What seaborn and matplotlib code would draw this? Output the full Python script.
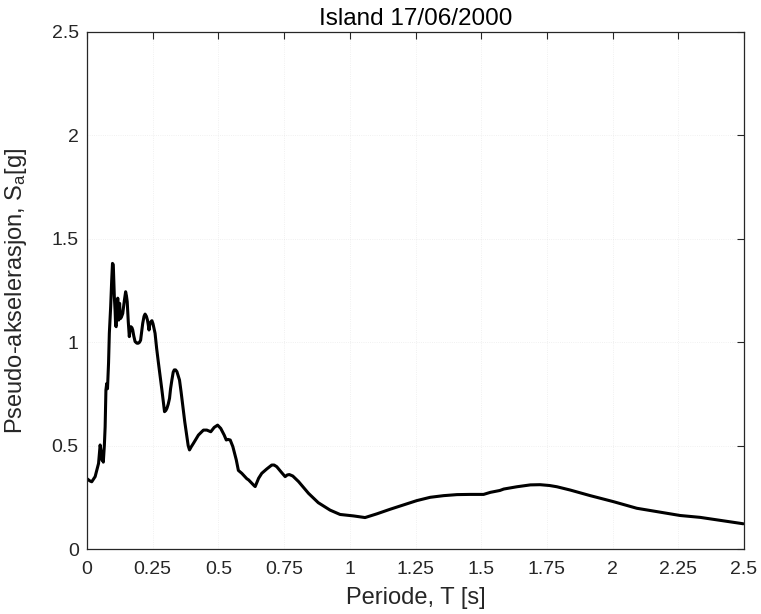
import numpy as np
import pandas as pd
import matplotlib
matplotlib.use("Agg")
import matplotlib.pyplot as plt
import seaborn as sns

# ---- data ----
period = [0.000, 0.010, 0.018, 0.031, 0.044, 0.050, 0.054, 0.057, 0.060, 0.062,
          0.066, 0.069, 0.072, 0.075, 0.078, 0.082, 0.085, 0.090, 0.094, 0.097,
          0.100, 0.102, 0.104, 0.107, 0.109, 0.111, 0.114, 0.117, 0.119, 0.121,
          0.124, 0.126, 0.128, 0.132, 0.136, 0.142, 0.147, 0.150, 0.153, 0.157,
          0.161, 0.164, 0.167, 0.171, 0.174, 0.178, 0.183, 0.190, 0.195, 0.200,
          0.204, 0.208, 0.212, 0.217, 0.221, 0.226, 0.230, 0.233, 0.236, 0.239,
          0.243, 0.247, 0.251, 0.259, 0.265, 0.272, 0.285, 0.295, 0.300, 0.304,
          0.309, 0.314, 0.318, 0.323, 0.328, 0.332, 0.337, 0.342, 0.352, 0.358,
          0.365, 0.372, 0.380, 0.385, 0.390, 0.397, 0.405, 0.424, 0.443, 0.456,
          0.471, 0.484, 0.497, 0.509, 0.522, 0.530, 0.536, 0.545, 0.555, 0.568,
          0.576, 0.589, 0.608, 0.615, 0.637, 0.640, 0.653, 0.665, 0.684, 0.703,
          0.712, 0.722, 0.741, 0.754, 0.762, 0.770, 0.783, 0.805, 0.843, 0.880,
          0.925, 0.963, 1.014, 1.058, 1.103, 1.153, 1.204, 1.255, 1.306, 1.357,
          1.408, 1.458, 1.509, 1.535, 1.571, 1.586, 1.636, 1.687, 1.724, 1.760,
          1.788, 1.839, 1.915, 2.003, 2.092, 2.168, 2.257, 2.333, 2.497]
sa = [0.340, 0.330, 0.325, 0.350, 0.414, 0.503, 0.470, 0.430, 0.465, 0.420,
      0.500, 0.590, 0.769, 0.800, 0.775, 0.900, 1.043, 1.170, 1.300, 1.381,
      1.375, 1.300, 1.220, 1.150, 1.080, 1.075, 1.150, 1.213, 1.150, 1.107,
      1.188, 1.140, 1.115, 1.125, 1.139, 1.200, 1.244, 1.225, 1.196, 1.100,
      1.027, 1.060, 1.075, 1.070, 1.059, 1.030, 1.003, 0.995, 0.995, 1.000,
      1.010, 1.050, 1.091, 1.125, 1.136, 1.125, 1.107, 1.085, 1.059, 1.085,
      1.099, 1.104, 1.090, 1.043, 0.970, 0.898, 0.769, 0.664, 0.670, 0.680,
      0.700, 0.728, 0.775, 0.817, 0.855, 0.866, 0.866, 0.858, 0.817, 0.760,
      0.688, 0.615, 0.543, 0.500, 0.479, 0.495, 0.511, 0.551, 0.575, 0.575,
      0.567, 0.588, 0.599, 0.583, 0.551, 0.527, 0.530, 0.527, 0.495, 0.431,
      0.380, 0.366, 0.340, 0.334, 0.305, 0.302, 0.342, 0.366, 0.387, 0.406,
      0.406, 0.398, 0.369, 0.350, 0.358, 0.360, 0.353, 0.326, 0.269, 0.224,
      0.188, 0.167, 0.160, 0.152, 0.170, 0.192, 0.213, 0.234, 0.250, 0.258,
      0.263, 0.264, 0.264, 0.274, 0.283, 0.290, 0.301, 0.310, 0.311, 0.307,
      0.301, 0.285, 0.258, 0.229, 0.197, 0.181, 0.162, 0.153, 0.122]

xticks = [0, 0.25, 0.5, 0.75, 1, 1.25, 1.5, 1.75, 2, 2.25, 2.5]
xtick_labels = ["0", "0.25", "0.5", "0.75", "1", "1.25", "1.5", "1.75", "2", "2.25", "2.5"]
yticks = [0, 0.5, 1, 1.5, 2, 2.5]
ytick_labels = ["0", "0.5", "1", "1.5", "2", "2.5"]

title = "Island 17/06/2000"
xlabel = "Periode, T [s]"
ylabel = "Pseudo-akselerasjon, S$_a$[g]"

# ---- style ----
sns.set_style("white")
plt.rcParams["font.family"] = ["Liberation Sans", "DejaVu Sans"]
plt.rcParams["mathtext.fontset"] = "custom"
plt.rcParams["mathtext.rm"] = "Liberation Sans"
plt.rcParams["mathtext.default"] = "regular"

axcol = "#262626"
fig = plt.figure(figsize=(7.61, 6.14), dpi=100)
ax = fig.add_axes([87 / 761, 1 - 549 / 614, (744 - 87) / 761, (549 - 32) / 614])

df = pd.DataFrame({"T": period, "Sa": sa})
sns.lineplot(data=df, x="T", y="Sa", ax=ax, color="black", linewidth=2.2,
             sort=False, estimator=None)

ax.set_xlim(0, 2.5)
ax.set_ylim(0, 2.5)
ax.set_xticks(xticks)
ax.set_xticklabels(xtick_labels)
ax.set_yticks(yticks)
ax.set_yticklabels(ytick_labels)

ax.tick_params(axis="both", which="major", direction="in", length=5, width=0.8,
               colors=axcol, labelsize=14, top=True, right=True)
ax.tick_params(axis="x", pad=9)
ax.tick_params(axis="y", pad=6)
for s in ax.spines.values():
    s.set_visible(True)
    s.set_color(axcol)
    s.set_linewidth(0.9)

ax.grid(True, linestyle=":", color="#d9d9d9", linewidth=0.6, alpha=0.5)
ax.set_axisbelow(True)

ax.set_title(title, fontsize=17.5, color="black", pad=5)
ax.set_xlabel(xlabel, fontsize=17, color=axcol, labelpad=6)
ax.set_ylabel(ylabel, fontsize=17, color=axcol, labelpad=16)

fig.savefig("out.png", dpi=100, facecolor="white")
